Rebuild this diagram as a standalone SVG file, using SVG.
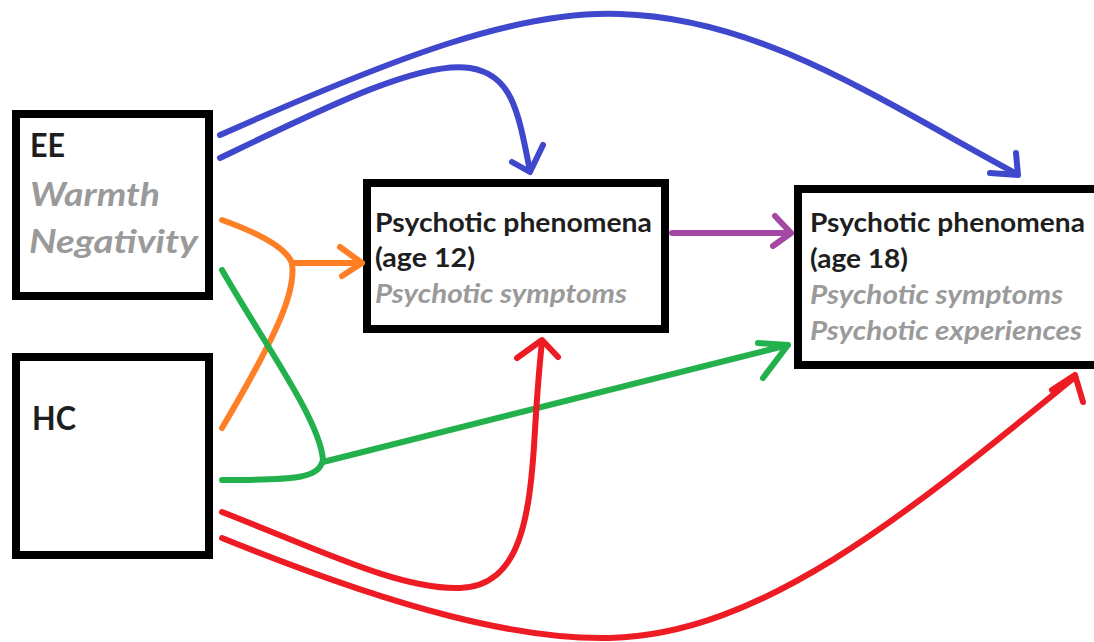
<svg xmlns="http://www.w3.org/2000/svg" width="1094" height="642" viewBox="0 0 1094 642">
<style>
.box{fill:#fff;stroke:#000;stroke-width:8}
.t{font-family:Lato,"Open Sans","Liberation Sans",sans-serif;font-weight:bold;fill:#1e1e1e}
.g{font-family:Lato,"Open Sans","Liberation Sans",sans-serif;font-weight:bold;font-style:italic;fill:#9a9a9a}
.big{font-size:33px}
.med{font-size:27px}
.c{fill:none;stroke-width:6;stroke-linecap:round;stroke-linejoin:round}
.blue{stroke:#3f48cc}.orange{stroke:#ff7f27}.green{stroke:#22b14c}.red{stroke:#ed1c24}.purple{stroke:#a349a4}
</style>
<rect width="1094" height="642" fill="#fff"/>
<g id="ee">
<rect class="box" x="16" y="114" width="193" height="182"/>
<text class="t big" x="30" y="157" textLength="35" lengthAdjust="spacingAndGlyphs">EE</text>
<text class="g big" x="30" y="206" textLength="130" lengthAdjust="spacingAndGlyphs">Warmth</text>
<text class="g big" x="29" y="253" textLength="169" lengthAdjust="spacingAndGlyphs">Negativity</text>
</g>
<g id="hc">
<rect class="box" x="16" y="357" width="193" height="198"/>
<text class="t big" x="32" y="430" textLength="44" lengthAdjust="spacingAndGlyphs">HC</text>
</g>
<g id="age12">
<rect class="box" x="367" y="183" width="298" height="146"/>
<text class="t med" x="375" y="232" textLength="277" lengthAdjust="spacingAndGlyphs">Psychotic phenomena</text>
<text class="t med" x="375" y="267" textLength="100" lengthAdjust="spacingAndGlyphs">(age 12)</text>
<text class="g med" x="375" y="303" textLength="252" lengthAdjust="spacingAndGlyphs">Psychotic symptoms</text>
</g>
<g id="age18">
<rect class="box" x="798" y="189" width="304" height="176"/>
<text class="t med" x="810" y="232" textLength="275" lengthAdjust="spacingAndGlyphs">Psychotic phenomena</text>
<text class="t med" x="810" y="268" textLength="98" lengthAdjust="spacingAndGlyphs">(age 18)</text>
<text class="g med" x="810" y="304" textLength="253" lengthAdjust="spacingAndGlyphs">Psychotic symptoms</text>
<text class="g med" x="810" y="340" textLength="272" lengthAdjust="spacingAndGlyphs">Psychotic experiences</text>
</g>
<g id="connectors">
<path class="c blue" d="M220,135 C400,55 520,10 620,14 C760,18 880,100 1017,174"/>
<path class="c blue" d="M1016,153 L1018,175 L990,173"/>
<path class="c blue" d="M220,158 C320,110 420,60 470,68 C512,75 518,110 530,171"/>
<path class="c blue" d="M512,162 L530,172 L543,145"/>
<path class="c orange" d="M222,220 C250,230 285,245 292,263 C296,290 280,330 222,428"/>
<path class="c orange" d="M292,263 L362,263 M340,247 L362,263 L342,276"/>
<path class="c green" d="M222,270 C265,345 320,420 323,460 C318,478 300,480 222,480"/>
<path class="c green" d="M323,462 L788,345 M758,343 L788,345 L763,378"/>
<path class="c red" d="M222,512 C320,550 400,590 460,588 C520,586 530,520 535,430 C538,380 540,360 542,342"/>
<path class="c red" d="M517,358 L542,340 L558,357"/>
<path class="c red" d="M222,538 C400,610 520,640 610,638 C760,634 900,520 1075,377"/>
<path class="c red" d="M1052,390 L1075,375 L1083,402"/>
<path class="c purple" d="M672,233 L791,233 M775,216 L791,233 L773,246"/>
</g>
</svg>
